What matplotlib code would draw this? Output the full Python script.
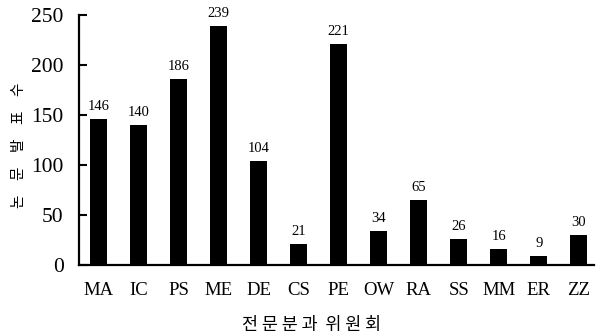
import matplotlib
matplotlib.use("Agg")
import matplotlib.pyplot as plt

categories = ["MA", "IC", "PS", "ME", "DE", "CS", "PE", "OW", "RA", "SS", "MM", "ER", "ZZ"]
counts = [146, 140, 186, 239, 104, 21, 221, 34, 65, 26, 16, 9, 30]
yticks = [0, 50, 100, 150, 200, 250]

serif = ["Liberation Serif", "DejaVu Serif"]
kr = ["Noto Sans CJK KR", "DejaVu Sans"]

fig = plt.figure(figsize=(5.96, 3.36), dpi=100)
ax = fig.add_axes([79 / 596, 1 - 265 / 336, (594 - 79) / 596, 250 / 336])

x = list(range(len(categories)))
bars = ax.bar(x, counts, width=0.43, color="black")

for xi, v in zip(x, counts):
    ax.annotate(str(v), (xi, v), xytext=(0, 4), textcoords="offset points",
                ha="center", va="bottom", fontsize=10.5, family=serif)

ax.set_xlim(-0.49, 12.38)
ax.set_ylim(0, 250)
ax.set_yticks(yticks)
ax.set_yticklabels([str(t) for t in yticks], fontsize=15.5, family=serif)
ax.set_xticks(x)
ax.set_xticklabels(categories, fontsize=13.5, family=serif)

ax.tick_params(axis="y", direction="in", length=6, width=1.5, pad=11)
ax.tick_params(axis="x", length=0, pad=12)

for side in ("top", "right"):
    ax.spines[side].set_visible(False)
for side in ("left", "bottom"):
    ax.spines[side].set_linewidth(1.6)

fig.text(19 / 596, 1 - 145 / 336, "논\u3000문\u3000발\u3000표\u3000수", rotation=90,
         ha="center", va="center", fontsize=10.5, family=kr)
fig.text(312 / 596, 1 - 325 / 336, "전 문 분 과  위 원 회",
         ha="center", va="center", fontsize=12.5, family=kr)

fig.savefig("out.png", dpi=100)
